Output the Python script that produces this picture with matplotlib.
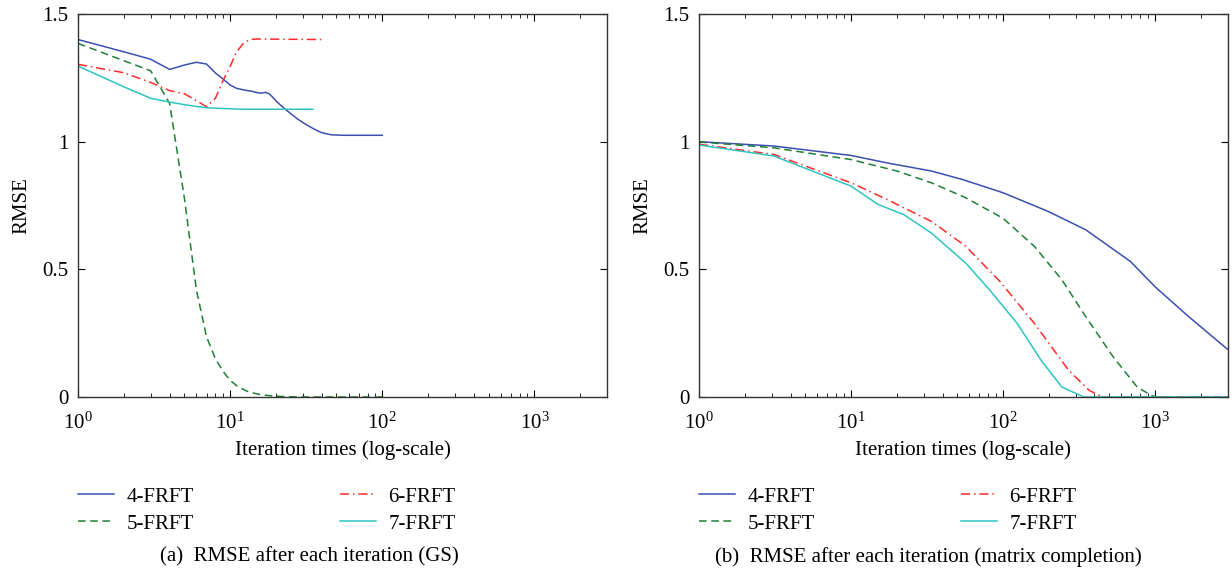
#!/usr/bin/env python3
"""RMSE vs iteration for the 4..7-FRFT variants: GS (a) and matrix completion (b)."""
import matplotlib
matplotlib.use("Agg")
import matplotlib.pyplot as plt

LABELS = ["4-FRFT", "5-FRFT", "6-FRFT", "7-FRFT"]

# (a) GS
gs_x4 = [1, 2, 3, 4, 5, 6, 7, 8, 9, 10, 11, 12, 13, 14, 15, 16, 17, 18, 19, 20, 22, 25, 28, 32, 36, 40, 46, 55, 100]
gs_y4 = [1.400, 1.352, 1.323, 1.283, 1.300, 1.311, 1.304, 1.269, 1.245, 1.222, 1.209, 1.204, 1.200, 1.197,
         1.192, 1.190, 1.193, 1.188, 1.175, 1.160, 1.137, 1.110, 1.087, 1.065, 1.048, 1.035, 1.027, 1.025, 1.025]
gs_x5 = [1, 2, 3, 4, 5, 6, 7, 8, 9, 10, 11, 12, 13, 15, 17, 20, 25, 30, 100]
gs_y5 = [1.385, 1.317, 1.278, 1.150, 0.780, 0.420, 0.235, 0.150, 0.100, 0.065, 0.045, 0.032, 0.022,
         0.012, 0.007, 0.003, 0.001, 0.0, 0.0]
gs_x6 = [1, 2, 3, 4, 5, 6, 7, 8, 9, 10, 11, 12, 13, 14, 15, 40]
gs_y6 = [1.303, 1.270, 1.232, 1.200, 1.188, 1.160, 1.137, 1.170, 1.240, 1.295, 1.350, 1.380, 1.395,
         1.401, 1.402, 1.400]
gs_x7 = [1, 2, 3, 4, 5, 6, 7, 8, 10, 12, 35]
gs_y7 = [1.296, 1.215, 1.170, 1.155, 1.145, 1.138, 1.133, 1.131, 1.129, 1.127, 1.127]

# (b) matrix completion
mc_x4 = [1, 3.1, 10, 17.2, 33.8, 54, 100, 198, 350, 689, 1000, 1664, 3000]
mc_y4 = [1.000, 0.983, 0.946, 0.917, 0.885, 0.852, 0.800, 0.727, 0.655, 0.531, 0.432, 0.315, 0.187]
mc_x5 = [1, 3.1, 10, 20.1, 33.8, 57, 100, 161, 244, 350, 531, 764, 940, 1010, 3000]
mc_y5 = [0.999, 0.976, 0.930, 0.885, 0.839, 0.780, 0.700, 0.590, 0.459, 0.315, 0.157, 0.039, 0.007, 0.0, 0.0]
mc_x6 = [1, 3.1, 10, 16.4, 33.8, 57, 95.6, 161, 270, 369, 450, 3000]
mc_y6 = [0.990, 0.950, 0.839, 0.780, 0.688, 0.590, 0.452, 0.288, 0.105, 0.026, 0.0, 0.0]
mc_x7 = [1, 3.1, 10, 15.1, 22.3, 33.8, 57, 81.8, 124, 178, 244, 340, 3000]
mc_y7 = [0.987, 0.944, 0.826, 0.754, 0.714, 0.642, 0.524, 0.419, 0.288, 0.144, 0.039, 0.0, 0.0]

YTICKS = [0, 0.5, 1, 1.5]
YTICKLABELS = ["0", "0.5", "1", "1.5"]
CAPTIONS = ["(a)  RMSE after each iteration (GS)", "(b)  RMSE after each iteration (matrix completion)"]

COLORS = ["#3a4fb0", "#1f7f35", "#ff2a2a", "#2ec4c4"]
STYLES = ["-", (0, (5, 3)), (0, (6, 2.5, 1, 2.5)), "-"]


def main():
    plt.rcParams["font.family"] = ["Liberation Serif", "DejaVu Serif"]
    plt.rcParams["mathtext.fontset"] = "custom"
    plt.rcParams["mathtext.rm"] = "Liberation Serif"
    plt.rcParams["mathtext.it"] = "Liberation Serif:italic"
    plt.rcParams["font.size"] = 15

    fig = plt.figure(figsize=(12.32, 5.71), dpi=100)
    W, H = 1232.0, 571.0
    boxes = [(78, 607), (699, 1227.5)]
    top, bottom = 14, 397
    series = [
        [(gs_x4, gs_y4), (gs_x5, gs_y5), (gs_x6, gs_y6), (gs_x7, gs_y7)],
        [(mc_x4, mc_y4), (mc_x5, mc_y5), (mc_x6, mc_y6), (mc_x7, mc_y7)],
    ]
    cap_x = [309, 928]

    for i, (x0, x1) in enumerate(boxes):
        ax = fig.add_axes([x0 / W, 1 - bottom / H, (x1 - x0) / W, (bottom - top) / H])
        for (xs, ys), lab, col, ls in zip(series[i], LABELS, COLORS, STYLES):
            ax.plot(xs, ys, color=col, linestyle=ls, linewidth=1.1, label=lab)
        ax.set_xscale("log")
        ax.set_xlim(1, 3000)
        ax.set_ylim(0, 1.5)
        ax.set_yticks(YTICKS)
        ax.set_yticklabels(YTICKLABELS)
        ax.tick_params(which="both", direction="in", top=True, right=True, labelsize=15)
        ax.tick_params(axis="x", pad=11)
        ax.tick_params(axis="y", pad=7)
        ax.tick_params(which="major", length=5)
        ax.tick_params(which="minor", length=3)
        for sp in ax.spines.values():
            sp.set_linewidth(1.0)
            sp.set_color("#333333")
        ax.set_xlabel("Iteration times (log-scale)", fontsize=15, labelpad=5)
        ax.set_ylabel("RMSE", fontsize=15, labelpad=8)
        ax.legend(loc="upper left", bbox_to_anchor=(0.0, -0.235), ncol=2, frameon=False,
                  fontsize=15, handlelength=1.75, handletextpad=0.58, columnspacing=7.0,
                  labelspacing=0.36, borderaxespad=0, borderpad=0)
        fig.text(cap_x[i] / W, 1 - 557 / H, CAPTIONS[i], ha="center", va="center", fontsize=15)

    fig.savefig("out.png", dpi=100)


if __name__ == "__main__":
    main()
